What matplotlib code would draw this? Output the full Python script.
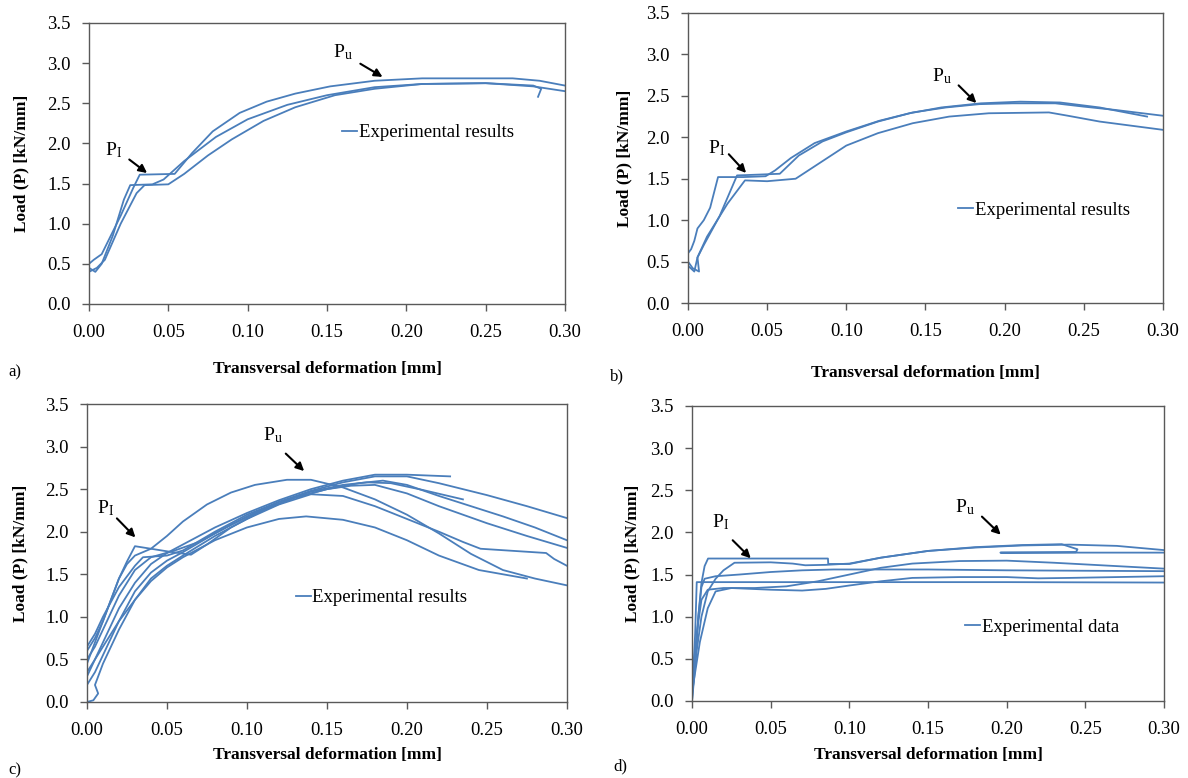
import numpy as np
import matplotlib
matplotlib.use("Agg")
from matplotlib import pyplot as plt

plt.rcParams['font.family'] = ['Liberation Serif', 'DejaVu Serif']
plt.rcParams['mathtext.fontset'] = 'custom'
plt.rcParams['mathtext.rm'] = 'Liberation Serif'
plt.rcParams['mathtext.it'] = 'Liberation Serif:italic'

# ---- panel a) : three specimens ----
a_x = [
    [0, 0, 0.003, 0.008, 0.012, 0.02, 0.028, 0.032, 0.054, 0.065, 0.078, 0.095, 0.112, 0.13, 0.152, 0.18, 0.21, 0.24, 0.267, 0.284, 0.3],
    [0, 0.004, 0.008, 0.015, 0.022, 0.026, 0.04, 0.047, 0.06, 0.08, 0.1, 0.125, 0.15, 0.18, 0.21, 0.25, 0.28, 0.285, 0.283],
    [0, 0.005, 0.01, 0.02, 0.03, 0.035, 0.05, 0.06, 0.075, 0.09, 0.11, 0.13, 0.155, 0.18, 0.21, 0.25, 0.28, 0.3],
]
a_y = [
    [0, 0.5, 0.55, 0.62, 0.78, 1.1, 1.45, 1.61, 1.62, 1.88, 2.15, 2.38, 2.52, 2.62, 2.71, 2.78, 2.81, 2.81, 2.81, 2.78, 2.72],
    [0.45, 0.4, 0.5, 0.85, 1.3, 1.48, 1.49, 1.55, 1.78, 2.08, 2.3, 2.48, 2.6, 2.7, 2.74, 2.75, 2.72, 2.68, 2.58],
    [0.4, 0.45, 0.55, 1.0, 1.38, 1.48, 1.49, 1.62, 1.85, 2.05, 2.28, 2.45, 2.6, 2.68, 2.74, 2.75, 2.71, 2.65],
]

# ---- panel b) ----
b_x = [
    [0, 0, 0.002, 0.004, 0.006, 0.01, 0.014, 0.019, 0.035, 0.049, 0.055, 0.065, 0.08, 0.1, 0.121, 0.142, 0.163, 0.184, 0.205, 0.232, 0.25, 0.27, 0.3],
    [0, 0.004, 0.006, 0.01, 0.02, 0.031, 0.045, 0.058, 0.07, 0.085, 0.1, 0.12, 0.14, 0.16, 0.185, 0.21, 0.235, 0.26, 0.29],
    [0, 0.003, 0.007, 0.006, 0.012, 0.025, 0.036, 0.05, 0.068, 0.08, 0.1, 0.12, 0.142, 0.165, 0.19, 0.228, 0.24, 0.26, 0.3],
]
b_y = [
    [0, 0.6, 0.65, 0.75, 0.9, 1.0, 1.15, 1.52, 1.52, 1.53, 1.6, 1.75, 1.93, 2.07, 2.2, 2.3, 2.36, 2.4, 2.41, 2.41, 2.37, 2.33, 2.26],
    [0.45, 0.38, 0.55, 0.7, 1.05, 1.54, 1.55, 1.56, 1.78, 1.95, 2.06, 2.19, 2.29, 2.36, 2.41, 2.43, 2.42, 2.36, 2.25],
    [0.5, 0.42, 0.38, 0.55, 0.8, 1.2, 1.48, 1.47, 1.5, 1.65, 1.9, 2.05, 2.17, 2.25, 2.29, 2.3, 2.26, 2.19, 2.09],
]

# ---- panel c) ----
c_x = [
    [0, 0.005, 0.01, 0.015, 0.02, 0.025, 0.03, 0.04, 0.05, 0.06, 0.075, 0.09, 0.105, 0.125, 0.14, 0.16, 0.18, 0.2, 0.22, 0.24, 0.26, 0.28, 0.3],
    [0, 0.005, 0.01, 0.015, 0.02, 0.025, 0.03, 0.04, 0.05, 0.065, 0.075, 0.09, 0.11, 0.13, 0.15, 0.17, 0.185, 0.2, 0.22, 0.24, 0.26, 0.28, 0.3],
    [0, 0.005, 0.01, 0.02, 0.03, 0.04, 0.05, 0.06, 0.08, 0.1, 0.12, 0.14, 0.16, 0.18, 0.2, 0.227],
    [0, 0.005, 0.01, 0.02, 0.03, 0.035, 0.05, 0.06, 0.08, 0.1, 0.12, 0.14, 0.16, 0.175, 0.19, 0.21, 0.235],
    [0, 0.005, 0.01, 0.02, 0.03, 0.04, 0.05, 0.06, 0.08, 0.1, 0.12, 0.14, 0.16, 0.18, 0.2, 0.22, 0.25, 0.275, 0.3],
    [0, 0.005, 0.01, 0.02, 0.03, 0.04, 0.055, 0.07, 0.09, 0.11, 0.13, 0.15, 0.165, 0.18, 0.2, 0.22, 0.25, 0.275, 0.3],
    [0, 0.004, 0.007, 0.005, 0.01, 0.02, 0.03, 0.04, 0.05, 0.06, 0.08, 0.1, 0.12, 0.14, 0.16, 0.18, 0.2, 0.22, 0.235, 0.246, 0.287, 0.292, 0.3],
    [0, 0.005, 0.01, 0.02, 0.03, 0.04, 0.05, 0.06, 0.07, 0.08, 0.1, 0.12, 0.137, 0.16, 0.18, 0.2, 0.22, 0.245, 0.275],
]
c_y = [
    [0.6, 0.75, 0.95, 1.2, 1.45, 1.62, 1.72, 1.8, 1.95, 2.12, 2.32, 2.46, 2.55, 2.61, 2.61, 2.52, 2.38, 2.2, 1.98, 1.74, 1.55, 1.45, 1.37],
    [0.45, 0.7, 0.95, 1.2, 1.45, 1.65, 1.83, 1.8, 1.77, 1.73, 1.85, 2.05, 2.25, 2.4, 2.5, 2.57, 2.6, 2.55, 2.42, 2.3, 2.18, 2.05, 1.9],
    [0.3, 0.5, 0.7, 1.1, 1.4, 1.62, 1.75, 1.85, 2.05, 2.22, 2.37, 2.5, 2.6, 2.67, 2.67, 2.65],
    [0.65, 0.8, 1.0, 1.35, 1.6, 1.7, 1.72, 1.78, 2.0, 2.2, 2.35, 2.47, 2.55, 2.58, 2.57, 2.49, 2.38],
    [0.2, 0.35, 0.55, 0.95, 1.3, 1.52, 1.66, 1.76, 1.98, 2.18, 2.35, 2.48, 2.58, 2.65, 2.65, 2.57, 2.43, 2.3, 2.16],
    [0.5, 0.65, 0.85, 1.25, 1.55, 1.7, 1.78, 1.88, 2.08, 2.26, 2.4, 2.5, 2.54, 2.55, 2.45, 2.3, 2.1, 1.95, 1.81],
    [0, 0.02, 0.1, 0.2, 0.45, 0.85, 1.2, 1.45, 1.6, 1.72, 1.95, 2.15, 2.32, 2.44, 2.42, 2.3, 2.15, 2.0, 1.88, 1.8, 1.75, 1.68, 1.6],
    [0.35, 0.5, 0.65, 0.95, 1.2, 1.42, 1.58, 1.7, 1.8, 1.9, 2.05, 2.15, 2.18, 2.14, 2.05, 1.9, 1.72, 1.55, 1.45],
]

# ---- panel d) ----
d_x = [
    [0, 0.002, 0.004, 0.006, 0.008, 0.0102, 0.05, 0.0864, 0.0866, 0.1, 0.12, 0.15, 0.18, 0.21, 0.24, 0.27, 0.3],
    [0, 0.003, 0.006, 0.01, 0.015, 0.02, 0.027, 0.05, 0.064, 0.072, 0.085, 0.1, 0.12, 0.15, 0.18, 0.21, 0.235, 0.245, 0.244, 0.196, 0.3],
    [0, 0.002, 0.004, 0.006, 0.008, 0.015, 0.03, 0.05, 0.07, 0.09, 0.125, 0.15, 0.2, 0.25, 0.3],
    [0, 0.003, 0.006, 0.01, 0.02, 0.04, 0.06, 0.08, 0.1, 0.12, 0.14, 0.17, 0.2, 0.23, 0.26, 0.3],
    [0, 0.005, 0.01, 0.015, 0.025, 0.05, 0.07, 0.085, 0.1, 0.12, 0.14, 0.17, 0.2, 0.22, 0.24, 0.27, 0.3],
    [0, 0.002, 0.003, 0.1, 0.2, 0.3],
]
d_y = [
    [0, 0.5, 1.0, 1.4, 1.6, 1.69, 1.69, 1.69, 1.625, 1.625, 1.7, 1.78, 1.82, 1.845, 1.855, 1.84, 1.79],
    [0.1, 0.6, 1.0, 1.3, 1.45, 1.55, 1.64, 1.645, 1.63, 1.61, 1.615, 1.63, 1.7, 1.78, 1.825, 1.85, 1.86, 1.8, 1.765, 1.76, 1.76],
    [0, 0.4, 1.0, 1.35, 1.45, 1.48, 1.5, 1.53, 1.55, 1.56, 1.56, 1.56, 1.55, 1.545, 1.54],
    [0.2, 0.8, 1.2, 1.32, 1.34, 1.34, 1.36, 1.42, 1.5, 1.58, 1.63, 1.66, 1.665, 1.64, 1.61, 1.57],
    [0.1, 0.7, 1.1, 1.3, 1.34, 1.32, 1.31, 1.33, 1.37, 1.42, 1.46, 1.47, 1.47, 1.455, 1.46, 1.47, 1.48],
    [0.05, 0.8, 1.41, 1.41, 1.41, 1.405],
]

x_ticks = [0.0, 0.05, 0.10, 0.15, 0.20, 0.25, 0.30]
y_ticks = [0.0, 0.5, 1.0, 1.5, 2.0, 2.5, 3.0, 3.5]
legend_texts = ['Experimental results', 'Experimental results', 'Experimental results', 'Experimental data']
panel_letters = ['a)', 'b)', 'c)', 'd)']

line_color = '#4A7EBB'
fig = plt.figure(figsize=(11.88, 7.78), dpi=100)

# axes rectangles in figure fraction
rects = [
    [0.0749, 0.6093, 0.4007, 0.3612],
    [0.5791, 0.6105, 0.3998, 0.3728],
    [0.0732, 0.0977, 0.4040, 0.3830],
    [0.5825, 0.0990, 0.3973, 0.3792],
]
# legend anchor (axes fraction)
legend_pos = [(0.515, 0.61), (0.552, 0.32), (0.419, 0.35), (0.562, 0.25)]
# annotation: (text pos, arrow tail, arrow head) in data units
pi_ann = [((0.010, 1.92), (0.024, 1.82), (0.038, 1.61)),
          ((0.0126, 1.87), (0.0246, 1.82), (0.0379, 1.545)),
          ((0.006, 2.28), (0.0175, 2.18), (0.0315, 1.91)),
          ((0.0127, 2.12), (0.0246, 1.93), (0.0386, 1.67))]
pu_ann = [((0.154, 3.14), (0.1695, 3.01), (0.1865, 2.81)),
          ((0.154, 2.74), (0.1697, 2.65), (0.1834, 2.39)),
          ((0.110, 3.14), (0.123, 2.94), (0.137, 2.69)),
          ((0.167, 2.30), (0.183, 2.21), (0.1975, 1.95))]
# panel letter position (figure pixels)
letter_pos = [(8, 372), (610, 376), (8, 770), (613, 766)]
ylabel_x = [-0.126, -0.118, -0.123, -0.11]
xlabel_pad = [14, 18, 6, 6.7]

all_x = [a_x, b_x, c_x, d_x]
all_y = [a_y, b_y, c_y, d_y]

for i in range(4):
    ax = fig.add_axes(rects[i])
    for j, (xs, ys) in enumerate(zip(all_x[i], all_y[i])):
        ax.plot(xs, ys, color=line_color, lw=1.3,
                label=legend_texts[i] if j == 0 else None)
    ax.set_xlim(0, 0.3)
    ax.set_ylim(0, 3.5)
    ax.set_xticks(x_ticks)
    ax.set_yticks(y_ticks)
    ax.set_xticklabels([f"{t:.2f}" for t in x_ticks])
    ax.set_yticklabels([f"{t:.1f}" for t in y_ticks])
    ax.tick_params(direction='out', length=5, width=1, color='#595959', labelsize=13.5, pad=8)
    ax.tick_params(axis='x', pad=9.5)
    for s in ax.spines.values():
        s.set_color('#595959')
        s.set_linewidth(1)
    ax.set_xlabel('Transversal deformation [mm]', fontsize=12.5, fontweight='bold', labelpad=xlabel_pad[i])
    ax.set_ylabel('Load (P) [kN/mm]', fontsize=12.5, fontweight='bold')
    ax.yaxis.set_label_coords(ylabel_x[i], 0.5)
    ax.legend(loc='center left', bbox_to_anchor=legend_pos[i], frameon=False,
              handlelength=0.8, handletextpad=0.1, fontsize=13.5, borderaxespad=0)
    for (tp, tail, head), lab in [(pi_ann[i], r'P$_\mathrm{I}$'), (pu_ann[i], r'P$_\mathrm{u}$')]:
        ax.text(tp[0], tp[1], lab, fontsize=14, ha='left', va='center')
        ax.annotate('', xy=head, xytext=tail,
                    arrowprops=dict(arrowstyle='-|>', color='black', lw=1.5, mutation_scale=12))
    fig.text(letter_pos[i][0] / 1188, 1 - letter_pos[i][1] / 778, panel_letters[i],
             fontsize=12, ha='left', va='center')

fig.savefig('out.png', dpi=100)
